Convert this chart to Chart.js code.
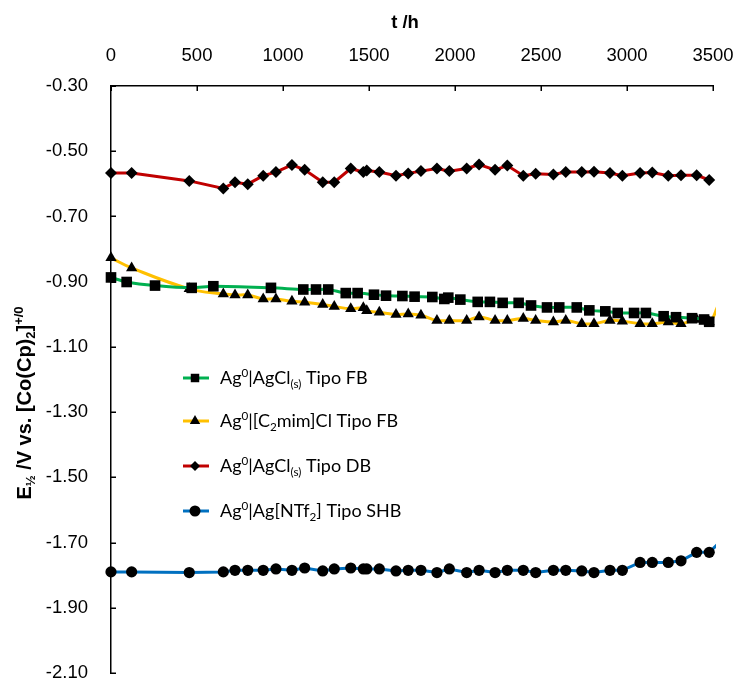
<!DOCTYPE html>
<html>
<head>
<meta charset="utf-8">
<script src="https://cdn.jsdelivr.net/npm/chart.js@4.4.1/dist/chart.umd.min.js"></script>
<style>
  html, body { margin: 0; padding: 0; background: #ffffff; }
  #wrap { width: 736px; height: 681px; position: relative; }
</style>
</head>
<body>
<div id="wrap"><canvas id="c"></canvas></div>
<script>
// Measurement times (h) shared by the FB [C2mim]Cl, DB and SHB electrodes
const times = [0, 120, 455, 653, 721, 795, 885, 959, 1052, 1126, 1231, 1298, 1394, 1467, 1487, 1560, 1657, 1728, 1802, 1895,
  1967, 2068, 2140, 2233, 2304, 2397, 2469, 2572, 2644, 2737, 2808, 2901, 2973, 3076, 3147, 3240, 3314, 3405, 3478];

// Measurement times (h) of the FB AgCl(s) electrode
const fbAgClTimes = [0, 91, 256, 469, 595, 930, 1118, 1192, 1263, 1365, 1434, 1529, 1599, 1694, 1765, 1868, 1938, 1961, 2031, 2132,
  2203, 2277, 2370, 2442, 2535, 2606, 2708, 2781, 2874, 2946, 3041, 3110, 3213, 3285, 3378, 3448, 3478];

// E1/2 (V vs. [Co(Cp)2]+/0)
const fbAgCl = [-0.887, -0.901, -0.912, -0.919, -0.914, -0.919, -0.924, -0.924, -0.924, -0.935, -0.935, -0.940, -0.943, -0.944, -0.946, -0.947, -0.953, -0.949, -0.955, -0.962,
  -0.962, -0.965, -0.965, -0.973, -0.979, -0.979, -0.979, -0.988, -0.991, -0.996, -0.996, -0.996, -1.006, -1.009, -1.012, -1.016, -1.023];

const fbC2mimCl = [-0.827, -0.858, -0.922, -0.938, -0.941, -0.941, -0.953, -0.953, -0.960, -0.963, -0.970, -0.976, -0.983, -0.980, -0.989, -0.994, -1.001, -0.999, -1.003, -1.019,
  -1.019, -1.019, -1.008, -1.019, -1.019, -1.013, -1.019, -1.024, -1.019, -1.029, -1.029, -1.019, -1.021, -1.029, -1.029, -1.024, -1.029, -1.016, -1.024];

const dbAgCl = [-0.567, -0.567, -0.591, -0.614, -0.595, -0.601, -0.575, -0.564, -0.542, -0.557, -0.595, -0.595, -0.553, -0.564, -0.559, -0.564, -0.575, -0.568, -0.561, -0.553,
  -0.561, -0.553, -0.541, -0.557, -0.544, -0.575, -0.569, -0.571, -0.564, -0.564, -0.563, -0.567, -0.575, -0.567, -0.565, -0.575, -0.574, -0.574, -0.588];

const shbNTf2 = [-1.790, -1.790, -1.792, -1.790, -1.785, -1.785, -1.785, -1.781, -1.785, -1.778, -1.787, -1.781, -1.778, -1.781, -1.781, -1.781, -1.787, -1.785, -1.785, -1.792,
  -1.781, -1.792, -1.785, -1.792, -1.785, -1.785, -1.792, -1.785, -1.785, -1.787, -1.792, -1.785, -1.785, -1.761, -1.761, -1.761, -1.756, -1.730, -1.730];

// Unmarked last readings of the curves that run past the axis end
const fbC2mimClTail = { t: 3530, e: -0.973 };
const shbNTf2Tail = { t: 3530, e: -1.704 };

// Axis ticks
const xTickValues = [0, 500, 1000, 1500, 2000, 2500, 3000, 3500];
const yTickValues = [-2.10, -1.90, -1.70, -1.50, -1.30, -1.10, -0.90, -0.70, -0.50, -0.30];

// Series names (rich text: [text, '' | 'sup' | 'sub'])
const seriesNames = [
  [['Ag', ''], ['0', 'sup'], ['|AgCl', ''], ['(s)', 'sub'], [' Tipo FB', '']],
  [['Ag', ''], ['0', 'sup'], ['|[C', ''], ['2', 'sub'], ['mim]Cl Tipo FB', '']],
  [['Ag', ''], ['0', 'sup'], ['|AgCl', ''], ['(s)', 'sub'], [' Tipo DB', '']],
  [['Ag', ''], ['0', 'sup'], ['|Ag[NTf', ''], ['2', 'sub'], ['] Tipo SHB', '']]
];
const xTitle = 't /h';
const yTitle = [['E', ''], ['\u00BD', 'sub'], [' /V vs. [Co(Cp)', ''], ['2', 'sub'], [']', ''], ['+/0', 'sup']];

const toPoints = (xs, ys) => xs.map((x, i) => ({ x: x, y: ys[i] }));
const withTail = (pts, tail) => pts.concat([{ x: tail.t, y: tail.e }]);

const sansFont = '"Liberation Sans", Arial, sans-serif';
const legendFont = 'Lato, "Open Sans", sans-serif';

function richWidth(ctx, parts, size, weight, family) {
  let w = 0;
  for (const [t, k] of parts) {
    ctx.font = weight + ' ' + (k ? size * 0.65 : size) + 'px ' + family;
    w += ctx.measureText(t).width;
  }
  return w;
}
function drawRich(ctx, parts, x, y, size, weight, family) {
  let cx = x;
  for (const [t, k] of parts) {
    const s = k ? size * 0.65 : size;
    ctx.font = weight + ' ' + s + 'px ' + family;
    const dy = k === 'sup' ? -size * 0.38 : (k === 'sub' ? size * 0.2 : 0);
    ctx.fillText(t, cx, y + dy);
    cx += ctx.measureText(t).width;
  }
  return cx - x;
}

const lastHidden = (r) => (c) => (c.dataIndex === c.dataset.data.length - 1 && c.dataset.hasTail ? 0 : r);

const datasets = [
  {
    label: 'Ag0|AgCl(s) Tipo FB',
    data: toPoints(fbAgClTimes, fbAgCl),
    borderColor: '#00B050', borderWidth: 3, tension: 0.3,
    pointStyle: 'rect', pointRadius: 7.5, pointBackgroundColor: '#000', pointBorderColor: '#000', pointBorderWidth: 0,
    legendRadius: 6
  },
  {
    label: 'Ag0|[C2mim]Cl Tipo FB',
    data: withTail(toPoints(times, fbC2mimCl), fbC2mimClTail), hasTail: true,
    borderColor: '#FFC000', borderWidth: 3, tension: 0.4,
    pointStyle: 'triangle', pointRadius: lastHidden(6.5), pointBackgroundColor: '#000', pointBorderColor: '#000', pointBorderWidth: 0,
    legendRadius: 6
  },
  {
    label: 'Ag0|AgCl(s) Tipo DB',
    data: toPoints(times, dbAgCl),
    borderColor: '#C00000', borderWidth: 3, tension: 0,
    pointStyle: 'rectRot', pointRadius: 6, pointBackgroundColor: '#000', pointBorderColor: '#000', pointBorderWidth: 0,
    legendRadius: 5
  },
  {
    label: 'Ag0|Ag[NTf2] Tipo SHB',
    data: withTail(toPoints(times, shbNTf2), shbNTf2Tail), hasTail: true,
    borderColor: '#0070C0', borderWidth: 3, tension: 0,
    pointStyle: 'circle', pointRadius: lastHidden(5.6), pointBackgroundColor: '#000', pointBorderColor: '#000', pointBorderWidth: 0,
    legendRadius: 5.5
  }
].map(d => Object.assign({ showLine: true, fill: false, clip: { left: 12, top: 12, right: 3, bottom: 12 } }, d));

// Inward tick marks on both axes
const innerTicks = {
  id: 'innerTicks',
  beforeDatasetsDraw(chart) {
    const ctx = chart.ctx, a = chart.chartArea;
    const xs = chart.scales.x, ys = chart.scales.y;
    ctx.save();
    ctx.strokeStyle = '#000';
    ctx.lineWidth = 1.5;
    ctx.beginPath();
    xTickValues.forEach(v => {
      const px = Math.round(xs.getPixelForValue(v)) + 0.25;
      ctx.moveTo(px, a.top);
      ctx.lineTo(px, a.top + 5);
    });
    yTickValues.forEach(v => {
      const py = Math.round(ys.getPixelForValue(v)) + 0.25;
      ctx.moveTo(a.left, py);
      ctx.lineTo(a.left + 5, py);
    });
    ctx.stroke();
    ctx.restore();
  }
};

// Axis titles and legend with sub/superscripts
const annotations = {
  id: 'annotations',
  afterDraw(chart) {
    const ctx = chart.ctx;
    ctx.save();
    ctx.fillStyle = '#000';

    // x title
    ctx.font = 'bold 18.5px ' + sansFont;
    ctx.textAlign = 'center';
    ctx.textBaseline = 'middle';
    ctx.fillText(xTitle, 405, 23);

    // y title (rotated)
    ctx.textAlign = 'left';
    ctx.textBaseline = 'alphabetic';
    const yw = richWidth(ctx, yTitle, 20, 'bold', sansFont);
    ctx.save();
    ctx.translate(31, 403);
    ctx.rotate(-Math.PI / 2);
    drawRich(ctx, yTitle, -yw / 2, 0, 20, 'bold', sansFont);
    ctx.restore();

    // legend
    const rows = [378, 421, 466, 511];
    chart.data.datasets.forEach((ds, i) => {
      const y = rows[i];
      ctx.strokeStyle = ds.borderColor;
      ctx.lineWidth = 3;
      ctx.beginPath();
      ctx.moveTo(183, y);
      ctx.lineTo(209, y);
      ctx.stroke();
      ctx.fillStyle = '#000';
      ctx.strokeStyle = '#000';
      Chart.helpers.drawPoint(ctx, { pointStyle: ds.pointStyle, radius: ds.legendRadius, rotation: 0, borderWidth: 0 }, 195, y);
      ctx.fillStyle = '#000';
      ctx.textAlign = 'left';
      ctx.textBaseline = 'alphabetic';
      drawRich(ctx, seriesNames[i], 220, y + 6, 18, 'normal', legendFont);
    });
    ctx.restore();
  }
};

new Chart(document.getElementById('c'), {
  type: 'line',
  data: { datasets: datasets },
  options: {
    responsive: true,
    maintainAspectRatio: false,
    devicePixelRatio: 1,
    animation: false,
    layout: { padding: { left: 0, top: 0, right: 23, bottom: 8 } },
    plugins: { legend: { display: false }, tooltip: { enabled: false } },
    scales: {
      x: {
        type: 'linear',
        position: 'top',
        min: 0, max: 3500,
        afterBuildTicks: s => { s.ticks = xTickValues.map(v => ({ value: v })); },
        afterFit: s => { s.height = 86; s.paddingLeft = 0; s.paddingRight = 0; },
        grid: { display: false },
        border: { display: true, color: '#000', width: 1.5 },
        ticks: { color: '#000', font: { family: sansFont, size: 18.5 }, padding: 11, maxRotation: 0, autoSkip: false,
          callback: v => String(v) }
      },
      y: {
        type: 'linear',
        min: -2.1, max: -0.3,
        afterBuildTicks: s => { s.ticks = yTickValues.map(v => ({ value: v })); },
        afterFit: s => { s.width = 111; s.paddingTop = 0; s.paddingBottom = 0; },
        grid: { display: false },
        border: { display: true, color: '#000', width: 1.5 },
        ticks: { color: '#000', font: { family: sansFont, size: 18.5 }, padding: 15, autoSkip: false,
          callback: v => v.toFixed(2) }
      }
    }
  },
  plugins: [innerTicks, annotations]
});
</script>
</body>
</html>
